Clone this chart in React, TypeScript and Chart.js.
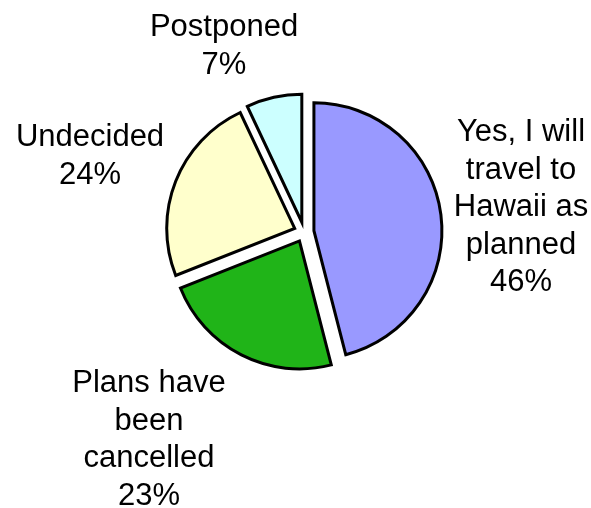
import React, { useEffect, useRef } from "react";
import { Chart, registerables } from "chart.js";

Chart.register(...registerables);

const CATEGORIES: string[][] = [
  ["Yes, I will", "travel to", "Hawaii as", "planned"],
  ["Plans have", "been", "cancelled"],
  ["Undecided"],
  ["Postponed"],
];
const VALUES: number[] = [46, 23, 24, 7];
const COLORS: string[] = ["#9999FF", "#20B418", "#FFFFCC", "#CCFFFF"];

// layout: centre x and first baseline y of each label block (page pixels)
const LABEL_ANCHORS: [number, number][] = [
  [521, 141],
  [149, 392],
  [90, 146],
  [224, 36],
];
const LINE_HEIGHT = 37.5;
const EXPLODE = 10;

const explodePlugin = {
  id: "explode",
  beforeDatasetsDraw(chart: any) {
    const { chartArea } = chart;
    const cx = (chartArea.left + chartArea.right) / 2;
    const cy = (chartArea.top + chartArea.bottom) / 2;
    const meta = chart.getDatasetMeta(0);
    meta.data.forEach((arc: any) => {
      const half = (arc.startAngle + arc.endAngle) / 2;
      arc.x = cx + Math.cos(half) * EXPLODE;
      arc.y = cy + Math.sin(half) * EXPLODE;
    });
  },
};

const labelPlugin = {
  id: "pieLabels",
  afterDraw(chart: any) {
    const ctx = chart.ctx;
    ctx.save();
    ctx.fillStyle = "#000000";
    ctx.font = "31px 'Liberation Sans', Arial, sans-serif";
    ctx.textAlign = "center";
    ctx.textBaseline = "alphabetic";
    CATEGORIES.forEach((lines, i) => {
      const all = [...lines, `${VALUES[i]}%`];
      const [x, y] = LABEL_ANCHORS[i];
      all.forEach((t, j) => ctx.fillText(t, x, y + j * LINE_HEIGHT));
    });
    ctx.restore();
  },
};

export default function App() {
  const ref = useRef<HTMLCanvasElement | null>(null);
  useEffect(() => {
    if (!ref.current) return;
    const chart = new Chart(ref.current, {
      type: "pie",
      data: {
        labels: CATEGORIES.map((l) => l.join(" ")),
        datasets: [
          {
            data: VALUES,
            backgroundColor: COLORS,
            borderColor: "#000000",
            borderWidth: 3,
            borderJoinStyle: "miter",
            radius: 128,
          } as any,
        ],
      },
      options: {
        responsive: false,
        animation: false,
        layout: { padding: { left: 17, right: 0, top: 0, bottom: 44 } },
        plugins: {
          legend: { display: false },
          tooltip: { enabled: false },
        },
      },
      plugins: [explodePlugin, labelPlugin],
    });
    return () => chart.destroy();
  }, []);
  return (
    <div style={{ position: "absolute", left: 0, top: 0, width: 591, height: 508, background: "#fff" }}>
      <canvas ref={ref} width={591} height={508} style={{ width: 591, height: 508 }} />
    </div>
  );
}
